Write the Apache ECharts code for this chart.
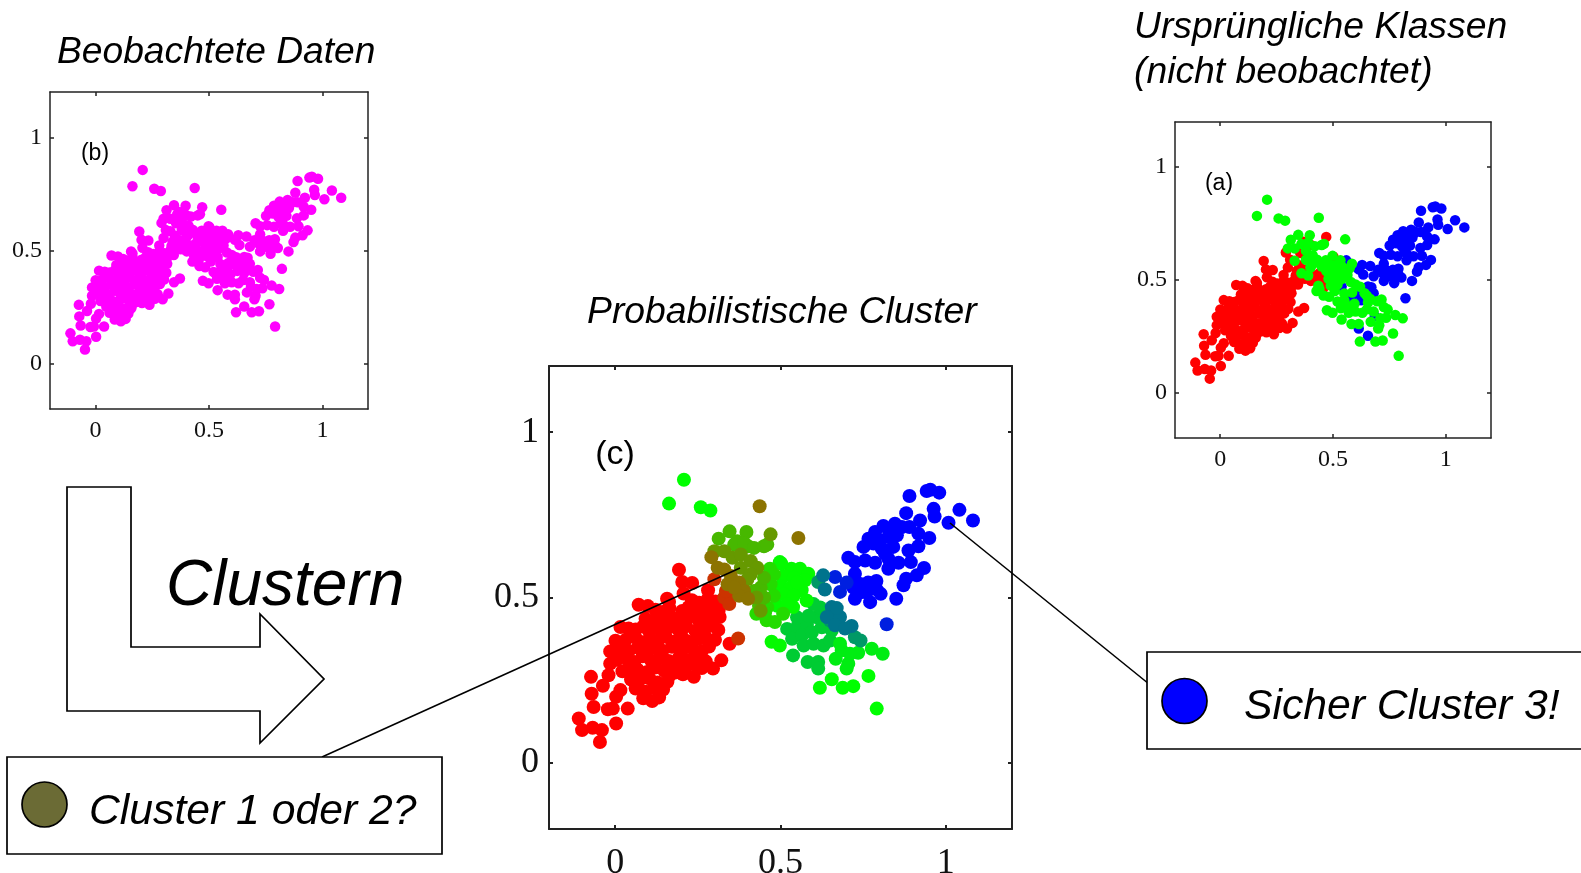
<!DOCTYPE html>
<html><head><meta charset="utf-8">
<style>html,body{margin:0;padding:0;background:#fff;overflow:hidden}#c{width:1581px;height:873px}</style>
<script src="https://cdn.jsdelivr.net/npm/echarts@6/dist/echarts.min.js"></script>
</head><body><div id="c"></div>
<script>
// each point: [x, y, original class]  (0 = red, 1 = green, 2 = blue)
const redEdge = [[-.11,.134,0],[-.10,.099,0],[-.068,.106,0],[-.04,.099,0],[-.046,.063,0],[.003,.119,0],[.038,.164,0],[-.022,.162,0],[-.007,.164,0],[-.065,.169,0],[-.071,.209,0],[-.073,.26,0],[-.037,.233,0],[.003,.2,0],[.016,.22,0],[-.02,.265,0],[-.015,.30,0],[-.015,.337,0],[.001,.369,0],[.016,.411,0],[.041,.406,0],[.071,.478,0],[.099,.474,0],[.157,.496,0],[.193,.584,0],[.203,.547,0],[.233,.544,0],[.207,.512,0],[.281,.522,0],[.321,.31,0],[.296,.285,0],[.238,.26,0],[.346,.36,0],[.316,.441,0]];
const redCore = [[.085,.195,0],[.112,.187,0],[.133,.198,0],[.062,.225,0],[.092,.215,0],[.118,.228,0],[.145,.222,0],[.158,.245,0],[.048,.252,0],[.072,.248,0],[.103,.256,0],[.128,.243,0],[.163,.262,0],[.182,.273,0],[.205,.268,0],[.022,.277,0],[.043,.289,0],[.068,.282,0],[.097,.275,0],[.121,.288,0],[.148,.279,0],[.178,.292,0],[.212,.285,0],[.241,.298,0],[.262,.287,0],[.005,.312,0],[.031,.318,0],[.058,.305,0],[.083,.322,0],[.109,.309,0],[.134,.316,0],[.162,.308,0],[.193,.318,0],[.224,.311,0],[.253,.322,0],[.274,.307,0],[.012,.345,0],[.041,.338,0],[.069,.349,0],[.091,.336,0],[.118,.347,0],[.143,.339,0],[.172,.351,0],[.203,.342,0],[.231,.349,0],[.262,.338,0],[.284,.352,0],[.032,.372,0],[.061,.379,0],[.083,.365,0],[.105,.376,0],[.128,.368,0],[.153,.381,0],[.181,.367,0],[.204,.378,0],[.222,.366,0],[.251,.375,0],[.273,.381,0],[.302,.372,0],[.062,.403,0],[.084,.412,0],[.103,.398,0],[.124,.408,0],[.141,.396,0],[.164,.411,0],[.192,.402,0],[.214,.413,0],[.243,.399,0],[.263,.407,0],[.284,.414,0],[.312,.402,0],[.092,.436,0],[.112,.428,0],[.133,.441,0],[.152,.431,0],[.173,.438,0],[.201,.427,0],[.223,.442,0],[.251,.433,0],[.272,.439,0],[.293,.428,0],[.304,.443,0],[.122,.463,0],[.143,.456,0],[.164,.468,0],[.203,.459,0],[.222,.471,0],[.243,.462,0],[.262,.455,0],[.284,.468,0],[.313,.461,0],[.163,.487,0],[.232,.492,0],[.254,.484,0],[.281,.496,0],[.303,.488,0],[.322,.481,0]];
const redBrown = [[.33,.50,0],[.36,.51,0],[.345,.48,0],[.372,.376,0],[.30,.555,0],[.335,.52,0]];
const brownOlive = [[.291,.622,0],[.31,.59,0],[.33,.585,1],[.35,.565,0],[.375,.545,0],[.39,.52,1],[.375,.505,0],[.437,.776,1],[.554,.68,1],[.402,.496,0],[.34,.54,0],[.36,.53,1]];
const olive = [[.30,.64,1],[.33,.64,1],[.355,.62,0],[.38,.63,1],[.41,.61,1],[.43,.59,1],[.38,.59,1],[.41,.57,1],[.47,.691,0],[.40,.555,1],[.427,.50,0],[.44,.46,1]];
const yellowGreen = [[.346,.70,1],[.397,.698,1],[.313,.678,1],[.369,.67,0],[.402,.655,0],[.36,.66,1],[.39,.665,1],[.42,.65,1],[.45,.655,1],[.46,.66,1],[.44,.53,0],[.45,.50,0],[.435,.475,1],[.45,.56,1],[.42,.52,0]];
const limeLeft = [[.468,.587,1],[.427,.451,1],[.458,.431,1],[.483,.426,1],[.48,.57,1],[.47,.54,1],[.48,.505,1],[.46,.47,0],[.453,.452,0],[.508,.451,1]];
const lime = [[.498,.607,1],[.533,.587,1],[.559,.587,2],[.584,.572,1],[.574,.552,1],[.564,.522,1],[.579,.491,1],[.538,.471,2],[.473,.366,1],[.498,.355,1],[.51,.565,1],[.54,.56,1],[.50,.535,1],[.53,.53,1],[.55,.545,1],[.51,.51,1],[.54,.505,1],[.49,.475,1],[.52,.48,1],[.502,.603,0]];
const seaGreen = [[.538,.325,1],[.582,.305,1],[.614,.305,1],[.614,.285,2],[.52,.405,1],[.55,.41,1],[.58,.42,2],[.61,.44,2],[.55,.44,1],[.535,.375,1],[.565,.385,1],[.595,.395,1],[.625,.41,2],[.655,.40,1],[.57,.355,1],[.60,.36,1],[.63,.355,1],[.65,.37,1],[.585,.445,1],[.62,.47,1],[.60,.48,1]];
const lightGreen = [[.667,.315,1],[.705,.30,1],[.685,.34,2],[.735,.333,1],[.776,.345,1],[.809,.33,1],[.70,.285,1],[.68,.36,1],[.71,.33,1]];
const pureGreen = [[.766,.263,1],[.655,.253,2],[.619,.227,1],[.688,.227,1],[.72,.232,1],[.791,.164,1],[.208,.856,1],[.163,.784,1],[.259,.773,1],[.288,.763,1]];
const tealGreen = [[.614,.547,2],[.725,.38,1],[.742,.37,1],[.65,.43,1]];
const teal = [[.629,.567,2],[.634,.524,2],[.655,.471,2],[.66,.451,2],[.68,.441,2],[.67,.468,2],[.64,.441,1],[.665,.416,1],[.715,.414,1],[.695,.406,1]];
const bluish = [[.821,.419,2],[.68,.517,2],[.665,.562,2],[.70,.545,2]];
const pureBlue = [[.85,.496,2],[.771,.486,2],[.725,.496,2],[.803,.511,2],[.725,.552,2],[.725,.572,2],[.705,.62,2],[.725,.607,2],[.756,.612,2],[.786,.605,2],[.826,.587,2],[.826,.617,2],[.857,.605,2],[.894,.607,2],[.887,.642,2],[.917,.655,2],[.95,.68,2],[.917,.693,2],[.89,.713,2],[.922,.733,2],[.88,.755,2],[.966,.745,2],[.963,.768,2],[.89,.807,2],[.942,.822,2],[.953,.826,2],[.98,.817,2],[1.041,.765,2],[1.082,.733,2],[1.008,.726,2],[.934,.589,2],[.912,.567,2],[.88,.557,2],[.872,.537,2],[.811,.716,2],[.846,.723,2],[.831,.703,2],[.786,.698,2],[.766,.678,2],[.751,.653,2],[.781,.663,2],[.801,.673,2],[.826,.683,2],[.852,.688,2],[.841,.653,2],[.816,.632,2],[.867,.713,2],[.806,.648,2],[.72,.53,2],[.745,.54,2],[.765,.545,2],[.79,.55,2],[.76,.515,2],[.79,.525,2],[.74,.515,2]];
const tickValues = [0, 0.5, 1];
// posterior membership of cluster 1, 2, 3 drawn as an RGB mix, per group
const groups = [
  [redCore,[1,0,0]],[redEdge,[1,0,0]],[redBrown,[.8,.2,0]],[pureBlue,[0,0,1]],[bluish,[0,.12,.88]],
  [seaGreen,[0,.8,.2]],[lightGreen,[0,.93,.07]],[pureGreen,[0,1,0]],[lime,[.02,.98,0]],[limeLeft,[.14,.86,0]],[yellowGreen,[.28,.72,0]],
  [olive,[.4,.6,0]],[brownOlive,[.55,.45,0]],[tealGreen,[0,.6,.4]],[teal,[0,.45,.55]]
];
const classColors = ['#ff0000','#00ff00','#0000ff'];
const rgb = p => `rgb(${p.map(v=>Math.round(v*255)).join(',')})`;
const everyPoint = groups.flatMap(g=>g[0]);

const panels = [
  {l:50,t:92,w:318,h:317,fs:24,sym:10.5,lw:1.5,tick:4,xm:10,ym:8,pad:7},
  {l:549,t:366,w:463,h:463,fs:36,sym:14,lw:2,tick:4,xm:17,ym:10,pad:6},
  {l:1175,t:122,w:316,h:316,fs:24,sym:10.5,lw:1.5,tick:4,xm:10,ym:8,pad:7}
];
const grid=[],xAxis=[],yAxis=[],series=[];
panels.forEach((p,i)=>{
  grid.push({left:p.l,top:p.t,width:p.w,height:p.h,outerBoundsMode:'none'});
  const mk=(pos,lab,m,pad)=>({gridIndex:i,type:'value',min:-0.2,max:1.2,position:pos,splitLine:{show:false},
    axisLine:{show:true,onZero:false,lineStyle:{color:'#222',width:p.lw}},
    axisTick:{show:true,inside:true,length:p.tick,customValues:tickValues,lineStyle:{color:'#222',width:p.lw}},
    axisLabel:{show:lab,margin:m,padding:[pad,0,0,0],customValues:tickValues,fontFamily:'Liberation Serif',fontSize:p.fs,color:'#111',formatter:v=>String(v)}});
  xAxis.push(mk('bottom',true,p.xm,0),mk('top',false,0,0));
  yAxis.push(mk('left',true,p.ym,p.pad),mk('right',false,0,0));
});
const sc=(i,data,color,sym)=>({type:'scatter',xAxisIndex:i*2,yAxisIndex:i*2,data:data.map(d=>[d[0],d[1]]),symbolSize:sym,itemStyle:{color,opacity:1},silent:true});
series.push(sc(0,everyPoint,'#ff00ff',panels[0].sym));
groups.forEach(g=>series.push(sc(1,g[0],rgb(g[1]),panels[1].sym)));
[2,0,1].forEach(k=>series.push(sc(2,everyPoint.filter(d=>d[2]===k),classColors[k],panels[2].sym)));

const txt=(text,x,y,fs,extra)=>({type:'text',z:50,style:Object.assign({text,x,y,fontSize:fs,fontFamily:'Liberation Sans',fontStyle:'italic',fill:'#000',textAlign:'left',textVerticalAlign:'middle'},extra||{})});
const stroke={stroke:'#000',lineWidth:1.7,fill:'#fff'};
const graphic=[
 {type:'polygon',z:20,shape:{points:[[67,487],[131,487],[131,647],[260,647],[260,614],[324,679],[260,743],[260,711],[67,711]]},style:stroke},
 {type:'line',z:30,shape:{x1:740,y1:568,x2:322,y2:757},style:{stroke:'#000',lineWidth:1.6}},
 {type:'line',z:30,shape:{x1:950,y1:523,x2:1149,y2:684},style:{stroke:'#000',lineWidth:1.6}},
 {type:'rect',z:40,shape:{x:7,y:757,width:435,height:97},style:stroke},
 {type:'rect',z:40,shape:{x:1147,y:652,width:440,height:97},style:stroke},
 {type:'circle',z:50,shape:{cx:44.5,cy:804.5,r:22.5},style:{fill:'#6b6b35',stroke:'#000',lineWidth:1.7}},
 {type:'circle',z:50,shape:{cx:1184.5,cy:701,r:22.5},style:{fill:'#0000ff',stroke:'#000',lineWidth:1.7}},
 txt('Beobachtete Daten',57,53,37.2),
 txt('Probabilistische Cluster',587,313,37.3),
 txt('Ursprüngliche Klassen',1134,28,37.3),
 txt('(nicht beobachtet)',1134,73,37.3),
 txt('Clustern',166,587,64),
 txt('Cluster 1 oder 2?',89,812,42.7),
 txt('Sicher Cluster 3!',1244,707,42.7),
 txt('(b)',95,154,23,{fontStyle:'normal',textAlign:'center'}),
 txt('(c)',615,455,34,{fontStyle:'normal',textAlign:'center'}),
 txt('(a)',1219,184,23,{fontStyle:'normal',textAlign:'center'})
];
const chart=echarts.init(document.getElementById('c'),null,{renderer:'canvas'});
chart.setOption({animation:false,backgroundColor:'#fff',grid,xAxis,yAxis,series,graphic});
</script></body></html>
